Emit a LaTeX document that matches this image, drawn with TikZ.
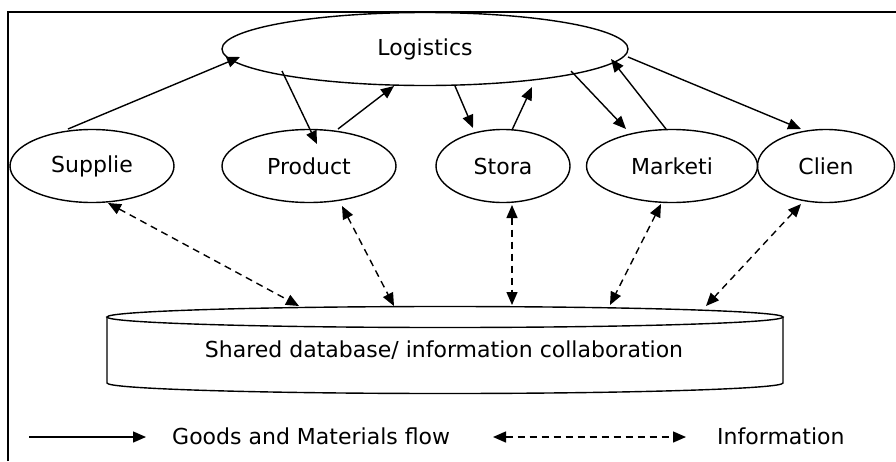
\documentclass[tikz,border=0pt]{standalone}
\usepackage{fontspec}
\setmainfont{DejaVu Sans}
\usetikzlibrary{arrows.meta,shapes.geometric,calc}
\begin{document}
\begin{tikzpicture}[x=1pt,y=-1pt,
  every node/.style={font=\fontsize{22}{26}\selectfont},
  bub/.style={ellipse,draw,line width=1.4pt,inner sep=0pt,minimum height=73pt},
  goods/.style={line width=1.4pt,-{Triangle[length=13pt,width=11pt]}},
  info/.style={line width=1.4pt,dash pattern=on 7pt off 5pt,{Triangle[length=13pt,width=11pt]}-{Triangle[length=13pt,width=11pt]}},
  frameline/.style={line width=2pt}]
\useasboundingbox (0,0) rectangle (896,461);
% frame
\coordinate (f1) at (8,461);
\coordinate (f2) at (8,12);
\coordinate (f3) at (896,12);
\draw[frameline] (f1) -- (f2) -- (f3);
% nodes
\node[bub,minimum width=406pt] (log) at (425,49) {Logistics};
\node[bub,minimum width=164pt] (sup) at (92,166) {Supplie};
\node[bub,minimum width=174pt] (prod) at (309,166) {Product};
\node[bub,minimum width=134pt] (stor) at (503,166) {Stora};
\node[bub,minimum width=171pt] (mark) at (672,166) {Marketi};
\node[bub,minimum width=137pt] (cli) at (826,166) {Clien};
% goods arrows
\draw[goods] ($(sup)+(-24,-37)$) -- ($(log)+(-185,8)$);
\draw[goods] ($(log)+(-143,22)$) -- ($(prod)+(8,-22)$);
\draw[goods] ($(prod)+(29,-37)$) -- ($(log)+(-31,37)$);
\draw[goods] ($(log)+(30,37)$) -- ($(stor)+(-30,-38)$);
\draw[goods] ($(stor)+(9,-36)$) -- ($(log)+(107,38)$);
\draw[goods] ($(log)+(146,22)$) -- ($(mark)+(-46,-37)$);
\draw[goods] ($(mark)+(-6,-37)$) -- ($(log)+(186,10)$);
\draw[goods] ($(log)+(203,8)$) -- ($(cli)+(-25,-37)$);
% database
\node[inner sep=0pt,minimum width=676pt,minimum height=87pt] (db) at (444,350) {Shared database/ information collaboration};
\draw[line width=1.4pt] (107,317) -- (107,383) arc[start angle=180,end angle=0,x radius=338,y radius=10.5] -- (783,317);
\draw[line width=1.4pt] (445,317) ellipse[x radius=338,y radius=10.5];
% info arrows
\draw[info] ($(sup)+(16,37)$) -- ($(db)+(-145,-44)$);
\draw[info] ($(prod)+(33,40)$) -- ($(db)+(-50,-44)$);
\draw[info] ($(stor)+(9,39)$) -- ($(db)+(68,-45)$);
\draw[info] ($(mark)+(-11,38)$) -- ($(db)+(166,-45)$);
\draw[info] ($(cli)+(-25,38)$) -- ($(db)+(262,-44)$);
% legend
\coordinate (g1) at (29,437);
\coordinate (g2) at (146,437);
\draw[goods] (g1) -- (g2);
\node[anchor=west,inner sep=0pt] (gl) at (172,436) {Goods and Materials flow};
\coordinate (i1) at (493,437);
\coordinate (i2) at (686,437);
\draw[info] (i1) -- (i2);
\node[anchor=west,inner sep=0pt] (il) at (717,436) {Information};
\end{tikzpicture}
\end{document}
